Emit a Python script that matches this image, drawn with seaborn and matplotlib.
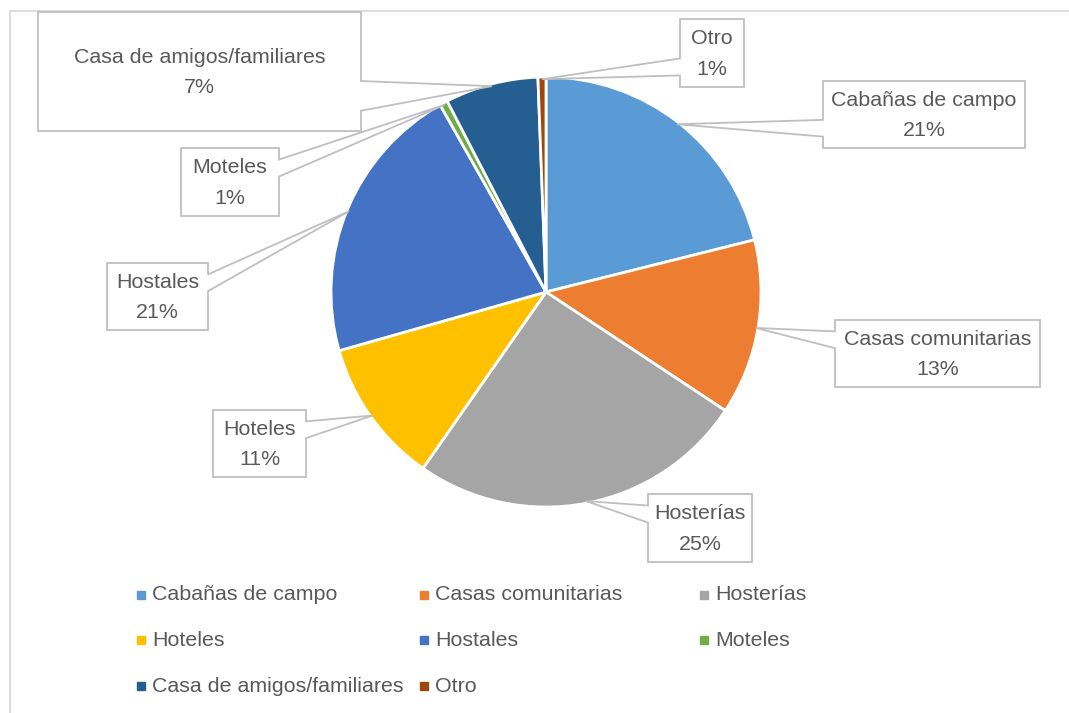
import numpy as np
import matplotlib.pyplot as plt
import seaborn as sns
from matplotlib.patches import Polygon, Rectangle

sns.set_theme(style="white")
plt.rcParams["font.family"] = ["Liberation Sans", "DejaVu Sans"]

categories = ["Cabañas de campo", "Casas comunitarias", "Hosterías", "Hoteles",
              "Hostales", "Moteles", "Casa de amigos/familiares", "Otro"]
shares = [21.1, 13.2, 25.4, 10.9, 21.2, 0.6, 7.0, 0.6]
colors = ["#5B9BD5", "#ED7D31", "#A5A5A5", "#FFC000",
          "#4472C4", "#70AD47", "#255E91", "#9E480E"]

# callout boxes in pixels (left, top, right, bottom) and side the tail leaves from
label_boxes = [(823, 81, 1025, 148, "left"),
               (835, 320, 1040, 387, "left"),
               (648, 494, 752, 562, "left"),
               (213, 410, 306, 477, "right"),
               (107, 263, 208, 330, "right"),
               (181, 148, 279, 216, "right"),
               (38, 12, 361, 131, "right"),
               (680, 19, 744, 87, "left")]

W, H = 1069, 713
CX, CY, R = 546, 292, 215  # pie centre / radius in pixels, origin top-left
TEXT = "#595959"
LINE = "#bfbfbf"
FS = 15.4


def to_data(x, y):
    return (x - CX) / R, (CY - y) / R


fig = plt.figure(figsize=(W / 100, H / 100), dpi=100)
ax = fig.add_axes([0, 0, 1, 1])
wedges, _ = ax.pie(shares, colors=colors, startangle=90, counterclock=False,
                   wedgeprops=dict(edgecolor="white", linewidth=2))
ax.set_xlim(-CX / R, (W - CX) / R)
ax.set_ylim(-(H - CY) / R, CY / R)
ax.set_aspect("equal")
ax.axis("off")

total = sum(shares)
for w, name, val, (x0, y0, x1, y1, side) in zip(wedges, categories, shares, label_boxes):
    mid = np.deg2rad((w.theta1 + w.theta2) / 2)
    tx = CX + 0.99 * R * np.cos(mid)
    ty = CY - 0.99 * R * np.sin(mid)
    h = y1 - y0
    if ty > (y0 + y1) / 2:
        b1, b2 = y0 + 0.58 * h, y0 + 0.83 * h
    else:
        b1, b2 = y0 + 0.17 * h, y0 + 0.42 * h
    if side == "left":
        pts = [(x0, y0), (x1, y0), (x1, y1), (x0, y1), (x0, b2), (tx, ty), (x0, b1)]
    else:
        pts = [(x0, y0), (x1, y0), (x1, b1), (tx, ty), (x1, b2), (x1, y1), (x0, y1)]
    ax.add_patch(Polygon([to_data(*p) for p in pts], closed=True, fc="white",
                         ec=LINE, lw=1.3, zorder=3, clip_on=False))
    pct = round(100 * val / total)
    ax.text(*to_data((x0 + x1) / 2, (y0 + y1) / 2 + 1),
            f"{name}\n{pct}%", ha="center", va="center", fontsize=FS,
            color=TEXT, linespacing=1.75, zorder=4)

# legend, laid out like the Excel one: 3 equal columns
col_x = [137, 420, 700]
row_y = [595, 640, 686]
for i, (name, c) in enumerate(zip(categories, colors)):
    mx, my = col_x[i % 3], row_y[i // 3]
    ax.add_patch(Rectangle(to_data(mx, my + 4), 8 / R, 8 / R, color=c, clip_on=False))
    ax.text(*to_data(mx + 15, my), name, ha="left", va="center",
            fontsize=FS, color=TEXT)

# chart frame (cropped on the right and bottom)
fx, fy = zip(to_data(9.5, H + 5), to_data(9.5, 11.5), to_data(W + 5, 11.5))
ax.plot(fx, fy, color="#d9d9d9", lw=1.3, clip_on=False)

fig.savefig("out.png", dpi=100)
